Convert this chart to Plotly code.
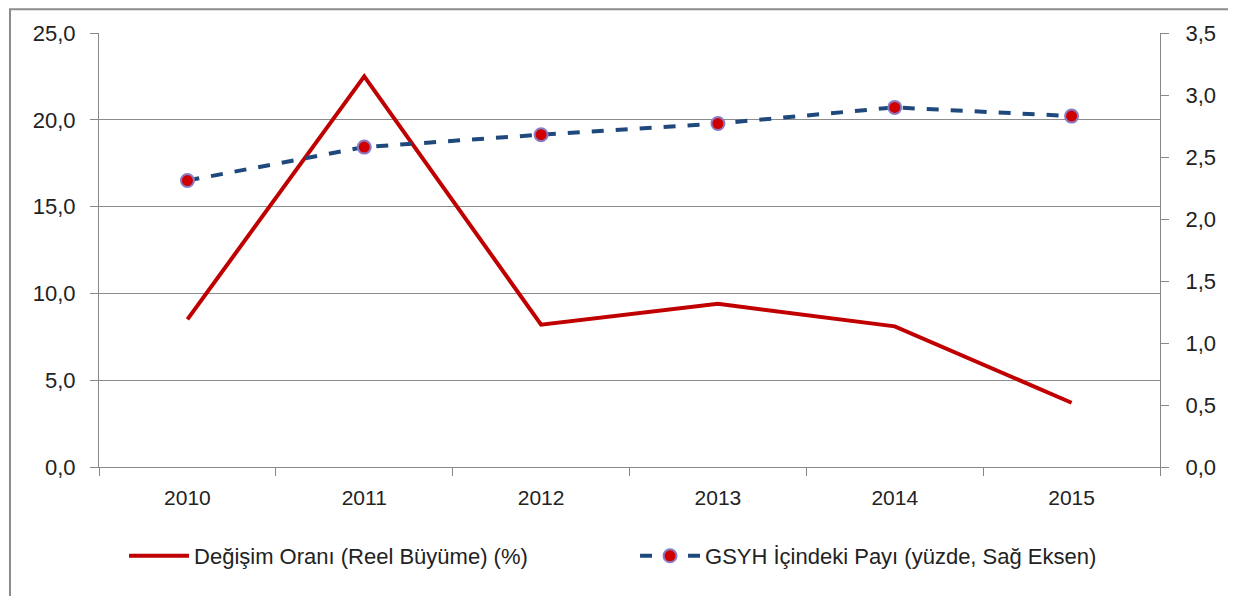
import plotly.graph_objects as go

years = ["2010", "2011", "2012", "2013", "2014", "2015"]
growth = [8.5, 22.5, 8.2, 9.4, 8.1, 3.7]
share = [2.31, 2.58, 2.68, 2.77, 2.90, 2.83]
left_ticks = [0, 5, 10, 15, 20, 25]
right_ticks = [0, 0.5, 1.0, 1.5, 2.0, 2.5, 3.0, 3.5]

fig = go.Figure()
fig.add_trace(go.Scatter(
    x=years, y=growth, mode="lines", name="Değişim Oranı (Reel Büyüme) (%)",
    line=dict(color="#C00000", width=4), yaxis="y"))
fig.add_trace(go.Scatter(
    x=years, y=share, mode="lines+markers", name="GSYH İçindeki Payı (yüzde, Sağ Eksen)",
    line=dict(color="#1F497D", width=4, dash="dash"),
    marker=dict(color="#D00000", size=13, line=dict(color="#8A7CC4", width=2)),
    yaxis="y2"))

fig.update_layout(
    width=1236, height=596,
    margin=dict(l=91, r=84, t=25, b=137),
    paper_bgcolor="white", plot_bgcolor="white",
    separators=",.",
    font=dict(family="Liberation Sans", size=20, color="#222"),
    showlegend=True,
    legend=dict(orientation="h", x=0.0236, xanchor="left", y=-0.205, yanchor="middle",
                font=dict(family="Liberation Sans", size=22),
                itemwidth=60, entrywidth=436, tracegroupgap=0),
    xaxis=dict(type="category", range=[-0.5, 5.5], tickson="boundaries",
               ticks="outside", ticklen=8,
               tickcolor="#888", showline=True, linecolor="#888", linewidth=1,
               showgrid=False, tickfont=dict(size=21), ticklabelstandoff=12),
    yaxis=dict(range=[0, 25], tickvals=left_ticks, tickformat=".1f",
               ticks="outside", ticklen=8, tickcolor="#888",
               showline=True, linecolor="#888", showgrid=True, gridcolor="#8c8c8c",
               gridwidth=1, zeroline=False, tickfont=dict(size=22), ticklabelstandoff=10),
    yaxis2=dict(range=[0, 3.5], tickvals=right_ticks, tickformat=".1f",
                overlaying="y", side="right", ticks="outside", ticklen=8,
                tickcolor="#888", showline=True, linecolor="#888",
                showgrid=False, zeroline=False, tickfont=dict(size=22), ticklabelstandoff=12),
    shapes=[dict(type="rect", xref="paper", yref="paper",
                 x0=-0.0839, x1=1.0707, y0=-0.35, y1=1.055,
                 line=dict(color="#8c8c8c", width=2), layer="below")],
)

fig.write_html("out.html")
